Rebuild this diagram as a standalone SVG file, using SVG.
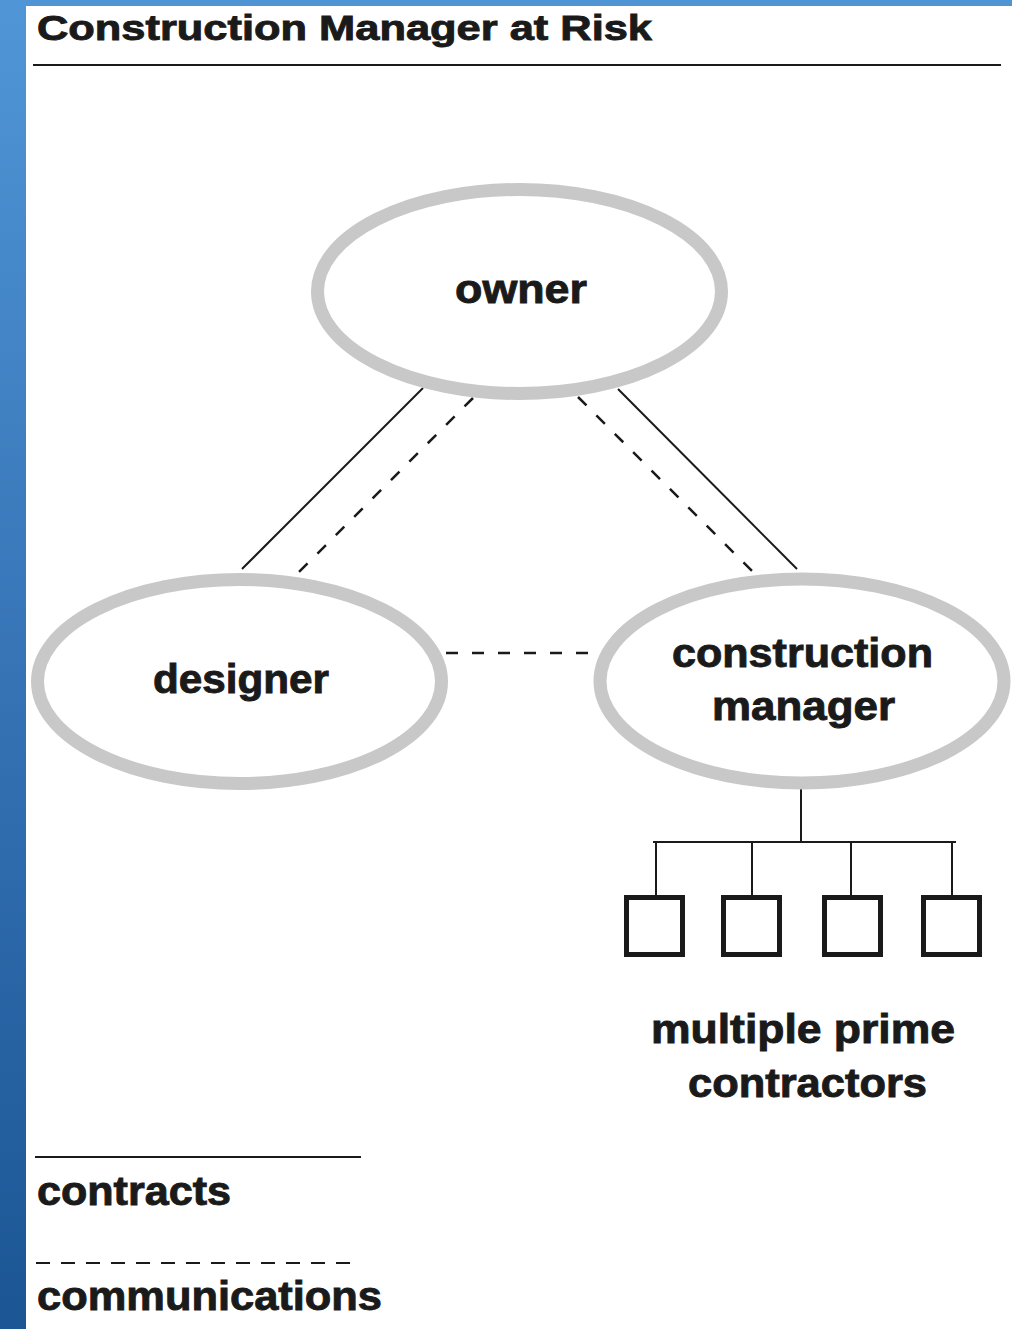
<svg xmlns="http://www.w3.org/2000/svg" width="1012" height="1329" viewBox="0 0 1012 1329">
  <defs>
    <linearGradient id="barGrad" x1="0" y1="0" x2="0" y2="1">
      <stop offset="0" stop-color="#5096d6"/>
      <stop offset="0.5" stop-color="#3674b6"/>
      <stop offset="1" stop-color="#1b5594"/>
    </linearGradient>
  </defs>
  <style>
    .t { font-family: "Liberation Sans", Arial, sans-serif; font-weight: bold; fill: #1a1a1a; stroke: #1a1a1a; stroke-width: 0.9; }
    .node { fill: #ffffff; stroke: #c8c8c8; stroke-width: 13; }
    .solid { stroke: #1a1a1a; stroke-width: 2; fill: none; }
    .dash { stroke: #1a1a1a; stroke-width: 2.5; fill: none; stroke-dasharray: 12 14; }
    .box { fill: #ffffff; stroke: #1a1a1a; stroke-width: 5; }
  </style>
  <rect x="0" y="0" width="1012" height="1329" fill="#ffffff"/>
  <rect x="0" y="0" width="1012" height="6" fill="#5095d3"/>
  <rect x="0" y="0" width="26" height="1329" fill="url(#barGrad)"/>

  <g id="title">
    <text class="t" x="37" y="40" font-size="35" textLength="615" lengthAdjust="spacingAndGlyphs">Construction Manager at Risk</text>
    <line x1="33" y1="65" x2="1001" y2="65" stroke="#1a1a1a" stroke-width="2"/>
  </g>

  <g id="connectors">
    <line class="solid" x1="423" y1="388" x2="242" y2="569"/>
    <line class="dash" x1="473" y1="398" x2="297" y2="574"/>
    <line class="solid" x1="618" y1="389" x2="797" y2="569"/>
    <line class="dash" x1="578" y1="397" x2="754" y2="573"/>
    <line class="dash" x1="446" y1="653" x2="596" y2="653"/>
    <line class="solid" x1="801" y1="789" x2="801" y2="842"/>
    <line class="solid" x1="653" y1="842" x2="956" y2="842"/>
    <line class="solid" x1="656" y1="842" x2="656" y2="897"/>
    <line class="solid" x1="752" y1="842" x2="752" y2="897"/>
    <line class="solid" x1="851" y1="842" x2="851" y2="897"/>
    <line class="solid" x1="952" y1="842" x2="952" y2="897"/>
  </g>

  <g id="owner">
    <ellipse class="node" cx="519.5" cy="291.5" rx="202" ry="102"/>
    <text class="t" x="521" y="303" font-size="40" text-anchor="middle" textLength="132" lengthAdjust="spacingAndGlyphs">owner</text>
  </g>

  <g id="designer">
    <ellipse class="node" cx="239.5" cy="681.5" rx="202" ry="102"/>
    <text class="t" x="241" y="693" font-size="40" text-anchor="middle" textLength="176" lengthAdjust="spacingAndGlyphs">designer</text>
  </g>

  <g id="construction-manager">
    <ellipse class="node" cx="802" cy="681" rx="202" ry="102"/>
    <text class="t" x="802.5" y="667" font-size="40" text-anchor="middle" textLength="261" lengthAdjust="spacingAndGlyphs">construction</text>
    <text class="t" x="803.5" y="720" font-size="40" text-anchor="middle" textLength="183" lengthAdjust="spacingAndGlyphs">manager</text>
  </g>

  <g id="contractor-1"><rect class="box" x="626.5" y="897.5" width="56" height="57"/></g>
  <g id="contractor-2"><rect class="box" x="723.5" y="897.5" width="56" height="57"/></g>
  <g id="contractor-3"><rect class="box" x="824.5" y="897.5" width="56" height="57"/></g>
  <g id="contractor-4"><rect class="box" x="923.5" y="897.5" width="56" height="57"/></g>

  <g id="contractors-label">
    <text class="t" x="803" y="1043" font-size="40" text-anchor="middle" textLength="304" lengthAdjust="spacingAndGlyphs">multiple prime</text>
    <text class="t" x="807.5" y="1097" font-size="40" text-anchor="middle" textLength="239" lengthAdjust="spacingAndGlyphs">contractors</text>
  </g>

  <g id="legend">
    <line x1="35" y1="1157" x2="361" y2="1157" stroke="#1a1a1a" stroke-width="2"/>
    <text class="t" x="37" y="1205" font-size="40" textLength="194" lengthAdjust="spacingAndGlyphs">contracts</text>
    <line x1="36" y1="1263" x2="360" y2="1263" stroke="#1a1a1a" stroke-width="2" stroke-dasharray="14 11"/>
    <text class="t" x="37" y="1310" font-size="40" textLength="345" lengthAdjust="spacingAndGlyphs">communications</text>
  </g>
</svg>
